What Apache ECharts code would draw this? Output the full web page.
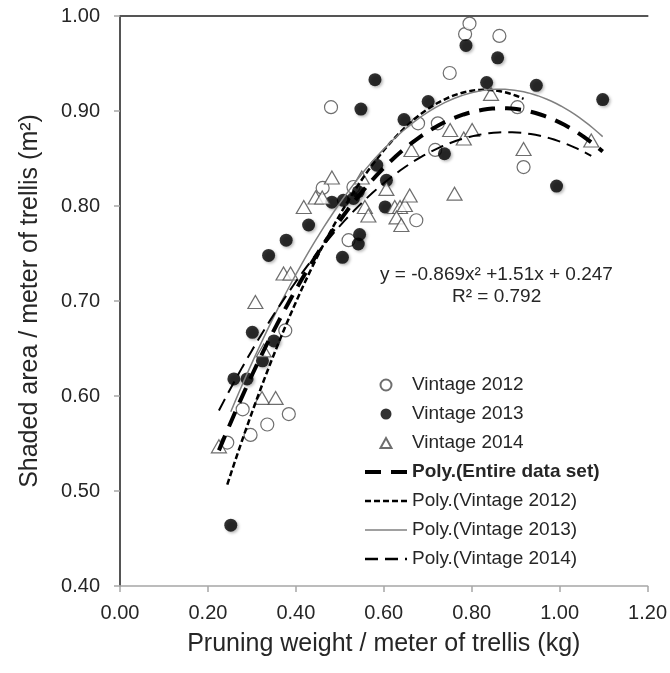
<!DOCTYPE html>
<html><head><meta charset="utf-8">
<script src="https://cdn.jsdelivr.net/npm/echarts@6/dist/echarts.min.js"></script>
<style>html,body{margin:0;padding:0;background:#fff}#c{width:670px;height:673px}</style>
</head><body><div id="c"></div>
<script>
// ---- data ----
const xTickLabels = ['0.00','0.20','0.40','0.60','0.80','1.00','1.20'];
const yTickLabels = ['0.40','0.50','0.60','0.70','0.80','0.90','1.00'];

const vintage2012 = [
  [0.244,0.551],[0.279,0.586],[0.297,0.559],[0.335,0.570],[0.384,0.581],
  [0.376,0.669],[0.461,0.819],[0.480,0.904],[0.531,0.820],[0.520,0.764],
  [0.674,0.785],[0.678,0.887],[0.723,0.887],[0.717,0.859],[0.750,0.940],
  [0.785,0.981],[0.795,0.992],[0.863,0.979],[0.904,0.904],[0.918,0.841]
];
const vintage2013 = [
  [0.252,0.464],[0.259,0.618],[0.289,0.618],[0.301,0.667],[0.324,0.637],
  [0.350,0.658],[0.338,0.748],[0.378,0.764],[0.429,0.780],[0.482,0.804],
  [0.506,0.746],[0.508,0.806],[0.531,0.808],[0.542,0.815],[0.545,0.770],
  [0.542,0.760],[0.548,0.902],[0.580,0.933],[0.584,0.843],[0.606,0.827],
  [0.603,0.799],[0.646,0.891],[0.701,0.910],[0.738,0.855],[0.787,0.969],
  [0.834,0.930],[0.859,0.956],[0.947,0.927],[0.993,0.821],[1.098,0.912]
];
const vintage2014 = [
  [0.225,0.547],[0.308,0.699],[0.327,0.648],[0.323,0.598],[0.354,0.598],
  [0.372,0.729],[0.388,0.729],[0.418,0.799],[0.445,0.809],[0.460,0.809],
  [0.482,0.830],[0.550,0.830],[0.557,0.799],[0.565,0.790],[0.606,0.818],
  [0.625,0.799],[0.637,0.799],[0.648,0.801],[0.629,0.788],[0.640,0.780],
  [0.659,0.811],[0.663,0.859],[0.751,0.880],[0.761,0.813],[0.782,0.871],
  [0.801,0.880],[0.844,0.918],[0.918,0.860],[1.072,0.869]
];

// polynomial trendline coefficients [a, b, c] for y = a x^2 + b x + c
const fitEntire = [-0.869, 1.51, 0.247];   // printed on the chart
const fit2012   = [-1.213, 2.012, 0.088];
const fit2013   = [-0.908, 1.568, 0.246];
const fit2014   = [-0.682, 1.201, 0.349];
const rangeEntire = [0.225, 1.098];
const range2012   = [0.244, 0.918];
const range2013   = [0.252, 1.098];
const range2014   = [0.225, 1.072];

const equationText = 'y = -0.869x² +1.51x + 0.247';
const r2Text = 'R² = 0.792';

// ---- chart ----
function trend(coef, range) {
  const pts = [], n = 80;
  for (let i = 0; i <= n; i++) {
    const x = range[0] + (range[1] - range[0]) * i / n;
    pts.push([x, coef[0]*x*x + coef[1]*x + coef[2]]);
  }
  return pts;
}
const FONT = "'Liberation Sans', Arial, sans-serif";
const chart = echarts.init(document.getElementById('c'), null, {renderer:'canvas'});
const grid = {left:120, right:19, top:16, bottom:87, containLabel:false};

const openStyle = {color:'#ffffff', borderColor:'#4a4a4a', borderWidth:1.2};
const hideSym = {opacity:0};
// legend triangle icon padded to the full 42x11 icon box so it keeps its shape
const triIcon = 'path://M0,11M42,11M15.5,11L21,1L26.5,11Z';
chart.setOption({
  animation:false,
  backgroundColor:'#fff',
  textStyle:{fontFamily:FONT},
  grid: grid,
  xAxis:[{
    type:'value', min:0, max:1.2, interval:0.2, position:'bottom',
    axisLine:{show:true, lineStyle:{color:'#a6a6a6', width:1.5}},
    axisTick:{show:true, inside:false, length:6, lineStyle:{color:'#a6a6a6', width:1.5}},
    splitLine:{show:false},
    axisLabel:{margin:17, fontSize:20, color:'#262626', fontFamily:FONT,
      formatter:(v)=>xTickLabels[Math.round(v/0.2)]},
    name:'Pruning weight / meter of trellis (kg)', nameLocation:'middle', nameGap:46,
    nameTextStyle:{fontSize:25, color:'#262626', fontFamily:FONT}
  },{
    type:'value', min:0, max:1.2, position:'top',
    axisLine:{show:true, lineStyle:{color:'#555', width:2}},
    axisTick:{show:false}, axisLabel:{show:false}, splitLine:{show:false}
  }],
  yAxis:[{
    type:'value', min:0.4, max:1.0, interval:0.1, position:'left',
    axisLine:{show:true, lineStyle:{color:'#a6a6a6', width:1.5}},
    axisTick:{show:true, inside:false, length:6, lineStyle:{color:'#a6a6a6', width:1.5}},
    splitLine:{show:false},
    axisLabel:{margin:20, fontSize:20, color:'#262626', fontFamily:FONT,
      formatter:(v)=>yTickLabels[Math.round((v-0.4)/0.1)]},
    name:'Shaded area / meter of trellis (m²)', nameLocation:'middle', nameGap:77,
    nameTextStyle:{fontSize:25, color:'#262626', fontFamily:FONT}
  },{
    type:'value', min:0.4, max:1.0, position:'right',
    axisLine:{show:true, lineStyle:{color:'#555', width:2}},
    axisTick:{show:false}, axisLabel:{show:false}, splitLine:{show:false}
  }],
  legend:{
    orient:'vertical', left:363, top:375, padding:0, itemWidth:42, itemHeight:11, itemGap:9,
    symbolKeepAspect:true,
    textStyle:{fontSize:19, color:'#262626', fontFamily:FONT, lineHeight:20},
    data:[
      {name:'Vintage 2012', icon:'circle'},
      {name:'Vintage 2013', icon:'circle'},
      {name:'Vintage 2014', icon:triIcon},
      {name:'Poly.(Entire data set)', textStyle:{fontWeight:'bold'}, lineStyle:{width:4}, itemStyle:hideSym},
      {name:'Poly.(Vintage 2012)', lineStyle:{width:2.5}, itemStyle:hideSym},
      {name:'Poly.(Vintage 2013)', lineStyle:{width:1.5}, itemStyle:hideSym},
      {name:'Poly.(Vintage 2014)', lineStyle:{width:2.5}, itemStyle:hideSym}
    ]
  },
  graphic:[
    {type:'text', left:380, top:265, style:{text:equationText, font:'19px '+FONT, fill:'#262626'}},
    {type:'text', left:452, top:287, style:{text:r2Text, font:'19px '+FONT, fill:'#262626'}}
  ],
  series:[
    {name:'Vintage 2012', type:'scatter', data:vintage2012, symbol:'circle', symbolSize:13,
      itemStyle:openStyle, z:3},
    {name:'Vintage 2013', type:'scatter', data:vintage2013, symbol:'circle', symbolSize:13,
      itemStyle:{color:'#000', shadowBlur:3, shadowColor:'rgba(0,0,0,0.35)', shadowOffsetX:1.5, shadowOffsetY:1.5}, z:3},
    {name:'Vintage 2014', type:'scatter', data:vintage2014, symbol:'triangle', symbolSize:[15,13],
      itemStyle:openStyle, z:3},
    {name:'Poly.(Entire data set)', type:'line', data:trend(fitEntire, rangeEntire), showSymbol:false, symbol:'none',
      itemStyle:{color:'#000'}, lineStyle:{color:'#000', width:4, type:[16,10]}, z:5},
    {name:'Poly.(Vintage 2012)', type:'line', data:trend(fit2012, range2012), showSymbol:false, symbol:'none',
      itemStyle:{color:'#000'}, lineStyle:{color:'#000', width:2.5, type:[6,3]}, z:5},
    {name:'Poly.(Vintage 2013)', type:'line', data:trend(fit2013, range2013), showSymbol:false, symbol:'none',
      itemStyle:{color:'#808080'}, lineStyle:{color:'#808080', width:1.5, type:'solid'}, z:5},
    {name:'Poly.(Vintage 2014)', type:'line', data:trend(fit2014, range2014), showSymbol:false, symbol:'none',
      itemStyle:{color:'#000'}, lineStyle:{color:'#000', width:2, type:[13,7]}, z:5}
  ]
});
</script></body></html>
